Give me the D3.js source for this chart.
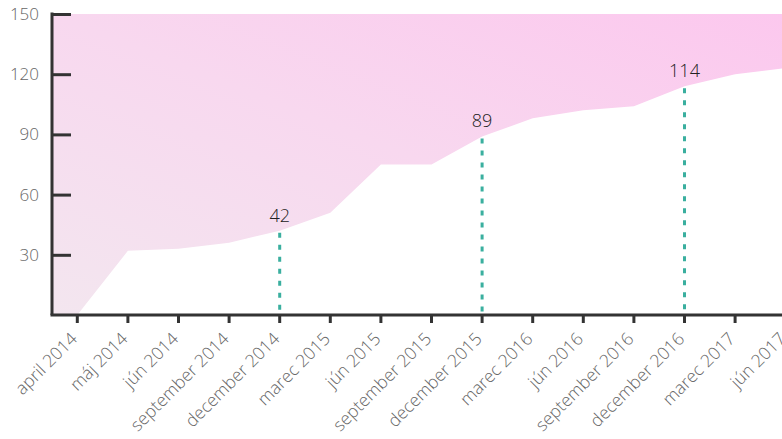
<!DOCTYPE html>
<html>
<head>
<meta charset="utf-8">
<script src="https://cdn.jsdelivr.net/npm/d3@7/dist/d3.min.js"></script>
<style>
html,body{margin:0;padding:0;background:#fff;overflow:hidden;}
svg{display:block;font-family:"Open Sans",sans-serif;}
</style>
</head>
<body>
<svg id="chart" width="782" height="439"></svg>
<script>
const categories = ["april 2014","máj 2014","jún 2014","september 2014","december 2014","marec 2015","jún 2015","september 2015","december 2015","marec 2016","jún 2016","september 2016","december 2016","marec 2017","jún 2017"];
const values = [0, 32, 33, 36, 42, 51, 75, 75, 89, 98, 102, 104, 114, 120, 123];
const highlighted = ["december 2014","december 2015","december 2016"];
const yTicks = [30, 60, 90, 120, 150];

(function () {
const svg = d3.select("#chart");
const mLeft = 52, mRight = 811, mTop = 14, mBottom = 315;

const x = d3.scaleBand().domain(categories).range([mLeft, mRight]);
const cx = d => x(d) + x.bandwidth() / 2;
const y = d3.scaleLinear().domain([0, 150]).range([mBottom, mTop]);

const defs = svg.append("defs");
const grad = defs.append("linearGradient").attr("id", "g")
  .attr("x1", "0%").attr("y1", "100%").attr("x2", "100%").attr("y2", "0%");
grad.append("stop").attr("offset", "0%").attr("stop-color", "#f3e6ef");
grad.append("stop").attr("offset", "50%").attr("stop-color", "#f8d8ef");
grad.append("stop").attr("offset", "100%").attr("stop-color", "#fcc7ee");

const data = categories.map((c, i) => ({c, v: values[i]}));
svg.append("rect").attr("x", mLeft).attr("y", mTop)
  .attr("width", mRight - mLeft).attr("height", mBottom - mTop)
  .attr("fill", "url(#g)");

const area = d3.area().x(d => cx(d.c)).y0(y(0)).y1(d => y(d.v));
svg.append("path").datum(data).attr("d", area).attr("fill", "#fff");

const hl = data.filter(d => highlighted.includes(d.c));
svg.selectAll(".drop").data(hl).join("line")
  .attr("x1", d => cx(d.c)).attr("x2", d => cx(d.c))
  .attr("y1", d => y(d.v) + 2).attr("y2", y(0))
  .attr("stroke", "#3aaf9f").attr("stroke-width", 3)
  .attr("stroke-dasharray", "5,7");

svg.selectAll(".lab").data(hl).join("text")
  .attr("x", d => cx(d.c)).attr("y", d => y(d.v) - 9)
  .attr("text-anchor", "middle").attr("font-size", 18).attr("font-weight", 300)
  .attr("fill", "#222").text(d => d.v);

const yAxis = svg.append("g").attr("transform", `translate(${mLeft},0)`)
  .call(d3.axisLeft(y).tickValues(yTicks).tickSize(-19).tickPadding(13).tickSizeOuter(0));
yAxis.select(".domain").attr("stroke", "#333").attr("stroke-width", 3)
  .attr("d", `M0,${mTop - 1.5}V${mBottom}`);
yAxis.selectAll(".tick line").attr("stroke", "#333").attr("stroke-width", 3);
yAxis.selectAll(".tick text").attr("font-size", 17).attr("font-weight", 300).attr("fill", "#666")
  .attr("font-family", "Open Sans, sans-serif");

const xAxis = svg.append("g").attr("transform", `translate(0,${mBottom})`)
  .call(d3.axisBottom(x).tickSize(8).tickSizeOuter(0));
xAxis.select(".domain").attr("stroke", "#333").attr("stroke-width", 3)
  .attr("d", `M${mLeft - 1.5},0H${mRight}`);
xAxis.selectAll(".tick line").attr("stroke", "#333").attr("stroke-width", 3);
xAxis.selectAll(".tick text")
  .attr("font-size", 17.5).attr("font-weight", 300).attr("fill", "#666")
  .attr("font-family", "Open Sans, sans-serif")
  .attr("text-anchor", "end").attr("dy", null).attr("y", null)
  .attr("transform", "translate(1,25) rotate(-45)");
})();
</script>
</body>
</html>
